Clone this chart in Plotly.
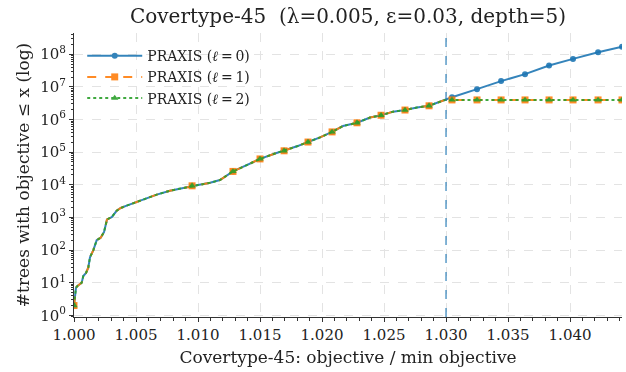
import plotly.graph_objects as go

# ---------------- data ----------------
# shared part of the cumulative curves (objective / min objective, #trees)
ratio_shared = [1.00000, 1.00008, 1.00016, 1.00028, 1.00062, 1.00075, 1.00097, 1.00115,
                1.00129, 1.00156, 1.00183, 1.00215, 1.00242, 1.00266, 1.00304, 1.00344,
                1.00377, 1.00425, 1.00506, 1.00586, 1.00667, 1.00774, 1.00909, 1.00952,
                1.01000, 1.01097, 1.01177, 1.01282, 1.01395, 1.01500, 1.01621, 1.01694,
                1.01798, 1.01887, 1.01984, 1.02081, 1.02169, 1.02282, 1.02387, 1.02476,
                1.02573, 1.02669, 1.02766, 1.02863, 1.02992]
count_shared = [2, 4, 7, 8, 10, 16, 20, 29,
                60, 100, 200, 240, 355, 870, 1020, 1600,
                1950, 2300, 3000, 4000, 5000, 6600, 8500, 9300,
                9800, 11500, 14000, 25700, 41700, 62000, 91000, 110000,
                151000, 204000, 282000, 417000, 631000, 794000, 1150000, 1350000,
                1740000, 1950000, 2340000, 2630000, 3980000]
# tail beyond the threshold
ratio_tail = [1.03048, 1.03250, 1.03444, 1.03637, 1.03831, 1.04024, 1.04226, 1.04419]
count_tail_l0 = [4.8e6, 8.5e6, 1.5e7, 2.45e7, 4.5e7, 7.2e7, 1.15e8, 1.7e8]
count_tail_l12 = [3.98e6, 3.98e6, 3.98e6, 3.98e6, 3.98e6, 3.98e6, 3.98e6, 3.98e6]
# indices (in the shared part) that carry markers
marker_idx_shared = [0, 23, 27, 29, 31, 33, 35, 37, 39, 41, 43]

threshold = 1.030
series_names = ["PRAXIS (<i>ℓ</i>\u2009=\u20090)", "PRAXIS (<i>ℓ</i>\u2009=\u20091)",
                "PRAXIS (<i>ℓ</i>\u2009=\u20092)"]
x_ticks = [1.000, 1.005, 1.010, 1.015, 1.020, 1.025, 1.030, 1.035, 1.040]
y_tick_exps = [0, 1, 2, 3, 4, 5, 6, 7, 8]

# ---------------- styles ----------------
colors = ["#1f77b4", "#ff7f0e", "#2ca02c"]
dashes = ["solid", "dash", "dot"]
symbols = ["circle", "square", "triangle-up"]
msizes = [6, 7, 6.5]
FONT = "DejaVu Serif"

fig = go.Figure()

tails = [count_tail_l0, count_tail_l12, count_tail_l12]
for i in range(3):
    xs = ratio_shared + ratio_tail
    ys = count_shared + tails[i]
    mx = [ratio_shared[k] for k in marker_idx_shared] + ratio_tail
    my = [count_shared[k] for k in marker_idx_shared] + tails[i]
    fig.add_trace(go.Scatter(
        x=xs, y=ys, mode="lines", showlegend=False, opacity=0.9,
        line=dict(color=colors[i], width=2, dash=dashes[i]), hoverinfo="skip"))
    fig.add_trace(go.Scatter(
        x=mx, y=my, mode="markers", showlegend=False, opacity=0.9,
        marker=dict(color=colors[i], size=msizes[i], symbol=symbols[i], line=dict(width=0))))
for i in range(3):
    fig.add_trace(go.Scatter(
        x=[None], y=[None], mode="lines+markers", name=series_names[i], opacity=0.9,
        line=dict(color=colors[i], width=2, dash=dashes[i]),
        marker=dict(color=colors[i], size=msizes[i], symbol=symbols[i])))

fig.add_shape(type="line", xref="x", yref="paper", x0=threshold, x1=threshold, y0=0, y1=1,
              line=dict(color="#1f77b4", width=1.3, dash="dash"), opacity=0.85)

fig.update_layout(
    width=626, height=372,
    margin=dict(l=74, r=4, t=33, b=55),
    paper_bgcolor="white", plot_bgcolor="white",
    font=dict(family=FONT, size=15, color="#222"),
    title=dict(text="Covertype-45  (λ=0.005, ε=0.03, depth=5)", x=0.556, xanchor="center",
               y=0.957, yanchor="middle", font=dict(size=20, family=FONT, color="#222")),
    legend=dict(x=0.015, y=0.975, xanchor="left", yanchor="top", bgcolor="rgba(0,0,0,0)",
                font=dict(size=14, family=FONT), tracegroupgap=0, itemwidth=55),
    showlegend=True,
)

fig.update_xaxes(
    range=[1.0, 1.04419], tickvals=x_ticks, ticktext=[f"{v:.3f}" for v in x_ticks],
    ticks="outside", ticklen=4, tickcolor="#333", showline=True, linecolor="#333", linewidth=1,
    showgrid=True, gridcolor="#e3e3e3", griddash="dash", gridwidth=0.8, zeroline=False,
    minor=dict(ticks="outside", ticklen=2.5, tickcolor="#333", dtick=0.001, showgrid=False),
    title=dict(text="Covertype-45: objective / min objective", font=dict(size=17, family=FONT), standoff=8),
    tickfont=dict(size=15, family=FONT),
)
fig.update_yaxes(
    type="log", range=[-0.05, 8.65],
    tickvals=[10 ** e for e in y_tick_exps], ticktext=[f"10<sup>{e}</sup>" for e in y_tick_exps],
    ticks="outside", ticklen=4, tickcolor="#333", showline=True, linecolor="#333", linewidth=1,
    showgrid=True, gridcolor="#e3e3e3", griddash="dash", gridwidth=0.8, zeroline=False,
    minor=dict(ticks="outside", ticklen=2.5, tickcolor="#333", dtick="D1", showgrid=False),
    title=dict(text="#trees with objective ≤ x (log)", font=dict(size=17, family=FONT), standoff=6),
    tickfont=dict(size=15, family=FONT),
)

fig.write_html("out.html")
